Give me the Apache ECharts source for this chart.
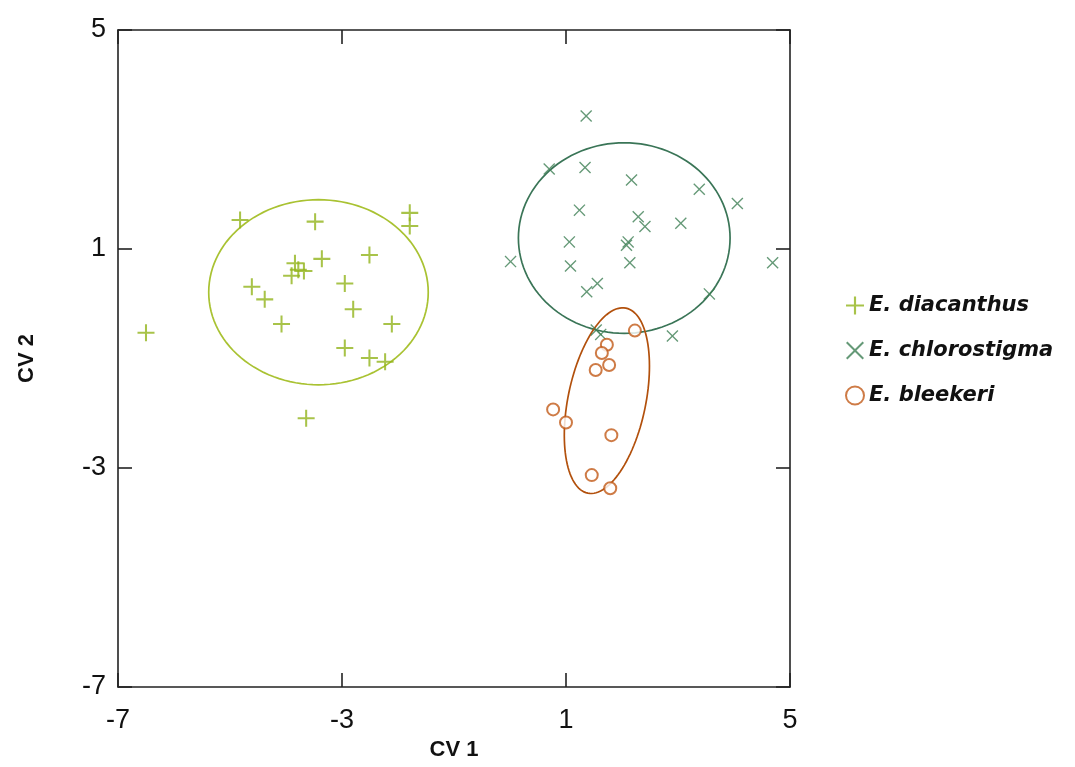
<!DOCTYPE html>
<html><head><meta charset="utf-8">
<script src="https://cdn.jsdelivr.net/npm/echarts@6/dist/echarts.min.js"></script>
<style>html,body{margin:0;padding:0;background:#fff}#c{width:1075px;height:767px}</style>
</head><body><div id="c"></div>
<script>
// ---- data ----
const seriesNames = ['E. diacanthus', 'E. chlorostigma', 'E. bleekeri'];
const xTicks = [-7, -3, 1, 5];
const yTicks = [-7, -3, 1, 5];
const diacanthus = [
  [-4.82,1.53],[-3.48,1.50],[-1.79,1.66],[-1.79,1.42],[-3.84,0.74],[-3.36,0.82],
  [-2.51,0.89],[-3.78,0.62],[-3.68,0.60],[-3.90,0.51],[-4.61,0.31],[-4.38,0.08],
  [-2.95,0.37],[-2.80,-0.10],[-4.08,-0.37],[-2.11,-0.37],[-2.95,-0.81],[-2.51,-0.99],
  [-2.23,-1.06],[-6.50,-0.53],[-3.64,-2.09]
];
const chlorostigma = [
  [1.36,3.43],[0.70,2.46],[1.34,2.49],[2.17,2.26],[3.38,2.09],[4.06,1.83],
  [1.24,1.71],[2.29,1.59],[2.41,1.41],[3.05,1.47],[1.06,1.13],[2.11,1.13],
  [2.08,1.07],[0.01,0.77],[1.08,0.69],[2.14,0.75],[4.69,0.75],[1.37,0.22],
  [1.56,0.37],[3.56,0.18],[1.54,-0.48],[1.62,-0.56],[2.90,-0.59]
];
const bleekeri = [
  [2.23,-0.49],[1.73,-0.75],[1.64,-0.90],[1.77,-1.12],[1.53,-1.21],
  [0.77,-1.93],[1.00,-2.17],[1.81,-2.40],[1.46,-3.13],[1.79,-3.37]
];
// ellipses: [cx, cy, ux, uy, vx, vy] (centre + conjugate semi-axes, data units)
const ellipseDiacanthus = [-3.42, 0.21, 1.96, 0, 0, 1.69];
const ellipseChlorostigma = [2.04, 1.20, 1.89, 0, 0, 1.74];
const ellipseBleekeri = [1.73, -1.77, 0.34, 1.69, 0.68, -0.14];

const colDia = '#92b41c', colDiaEll = '#a9c232';
const colChl = '#3f7f55', colChlEll = '#3a7557';
const colBle = '#c25a18', colBleEll = '#b2500c';

const plusPath = 'path://M4.4,0H5.6V4.4H10V5.6H5.6V10H4.4V5.6H0V4.4H4.4Z';
const crossPath = 'path://M0.8,0L5,4.2L9.2,0L10,0.8L5.8,5L10,9.2L9.2,10L5,5.8L0.8,10L0,9.2L4.2,5L0,0.8Z';

function ellipseSeries(params, color) {
  return {
    type: 'custom', silent: true, z: 1,
    data: [params],
    encode: {x: 0, y: 1},
    renderItem: function (p, api) {
      const cx = api.value(0), cy = api.value(1), ux = api.value(2), uy = api.value(3), vx = api.value(4), vy = api.value(5);
      const pts = [];
      for (let i = 0; i < 120; i++) {
        const t = i / 120 * Math.PI * 2;
        pts.push(api.coord([cx + ux * Math.cos(t) + vx * Math.sin(t), cy + uy * Math.cos(t) + vy * Math.sin(t)]));
      }
      return {type: 'polygon', shape: {points: pts}, style: {fill: 'none', stroke: color, lineWidth: 1.7}};
    }
  };
}

const axisFont = {fontFamily: 'Liberation Sans, Arial, sans-serif', fontSize: 27, color: '#111'};
const lineStyle = {color: '#222', width: 1.6};
const chart = echarts.init(document.getElementById('c'), null, {renderer: 'canvas'});
chart.setOption({
  animation: false,
  backgroundColor: '#fff',
  grid: {left: 118, top: 30, width: 672, height: 657},
  legend: {
    orient: 'vertical', left: 840, top: 290, itemGap: 24, itemWidth: 18, itemHeight: 18,
    data: seriesNames,
    textStyle: {fontFamily: 'DejaVu Sans, sans-serif', fontSize: 21, fontWeight: 'bold', fontStyle: 'italic', color: '#111'}
  },
  xAxis: [{
    type: 'value', min: -7, max: 5, interval: 4, position: 'bottom',
    name: 'CV 1', nameLocation: 'middle', nameGap: 50,
    nameTextStyle: {fontFamily: 'Liberation Sans, Arial, sans-serif', fontSize: 22, fontWeight: 'bold', color: '#111'},
    axisLine: {show: true, onZero: false, lineStyle: lineStyle},
    axisTick: {show: true, inside: true, length: 14, lineStyle: lineStyle, customValues: xTicks},
    axisLabel: Object.assign({margin: 20, customValues: xTicks}, axisFont),
    splitLine: {show: false}
  }, {
    type: 'value', min: -7, max: 5, interval: 4, position: 'top',
    axisLine: {show: true, onZero: false, lineStyle: lineStyle},
    axisTick: {show: true, inside: true, length: 14, lineStyle: lineStyle, customValues: xTicks},
    axisLabel: {show: false}, splitLine: {show: false}
  }],
  yAxis: [{
    type: 'value', min: -7, max: 5, interval: 4, position: 'left',
    name: 'CV 2', nameLocation: 'middle', nameGap: 80, nameRotate: 90,
    nameTextStyle: {fontFamily: 'Liberation Sans, Arial, sans-serif', fontSize: 22, fontWeight: 'bold', color: '#111'},
    axisLine: {show: true, onZero: false, lineStyle: lineStyle},
    axisTick: {show: true, inside: true, length: 14, lineStyle: lineStyle, customValues: yTicks},
    axisLabel: Object.assign({margin: 12, customValues: yTicks}, axisFont),
    splitLine: {show: false}
  }, {
    type: 'value', min: -7, max: 5, interval: 4, position: 'right',
    axisLine: {show: true, onZero: false, lineStyle: lineStyle},
    axisTick: {show: true, inside: true, length: 14, lineStyle: lineStyle, customValues: yTicks},
    axisLabel: {show: false}, splitLine: {show: false}
  }],
  series: [
    {name: seriesNames[0], type: 'scatter', data: diacanthus, symbol: plusPath, symbolSize: 17, z: 3,
     itemStyle: {color: colDia}},
    {name: seriesNames[1], type: 'scatter', data: chlorostigma, symbol: crossPath, symbolSize: 12, z: 3,
     itemStyle: {color: colChl}},
    {name: seriesNames[2], type: 'scatter', data: bleekeri, symbol: 'emptyCircle', symbolSize: 12, z: 3,
     itemStyle: {color: colBle, borderColor: colBle, borderWidth: 2}},
    ellipseSeries(ellipseDiacanthus, colDiaEll),
    ellipseSeries(ellipseChlorostigma, colChlEll),
    ellipseSeries(ellipseBleekeri, colBleEll)
  ]
});
</script></body></html>
